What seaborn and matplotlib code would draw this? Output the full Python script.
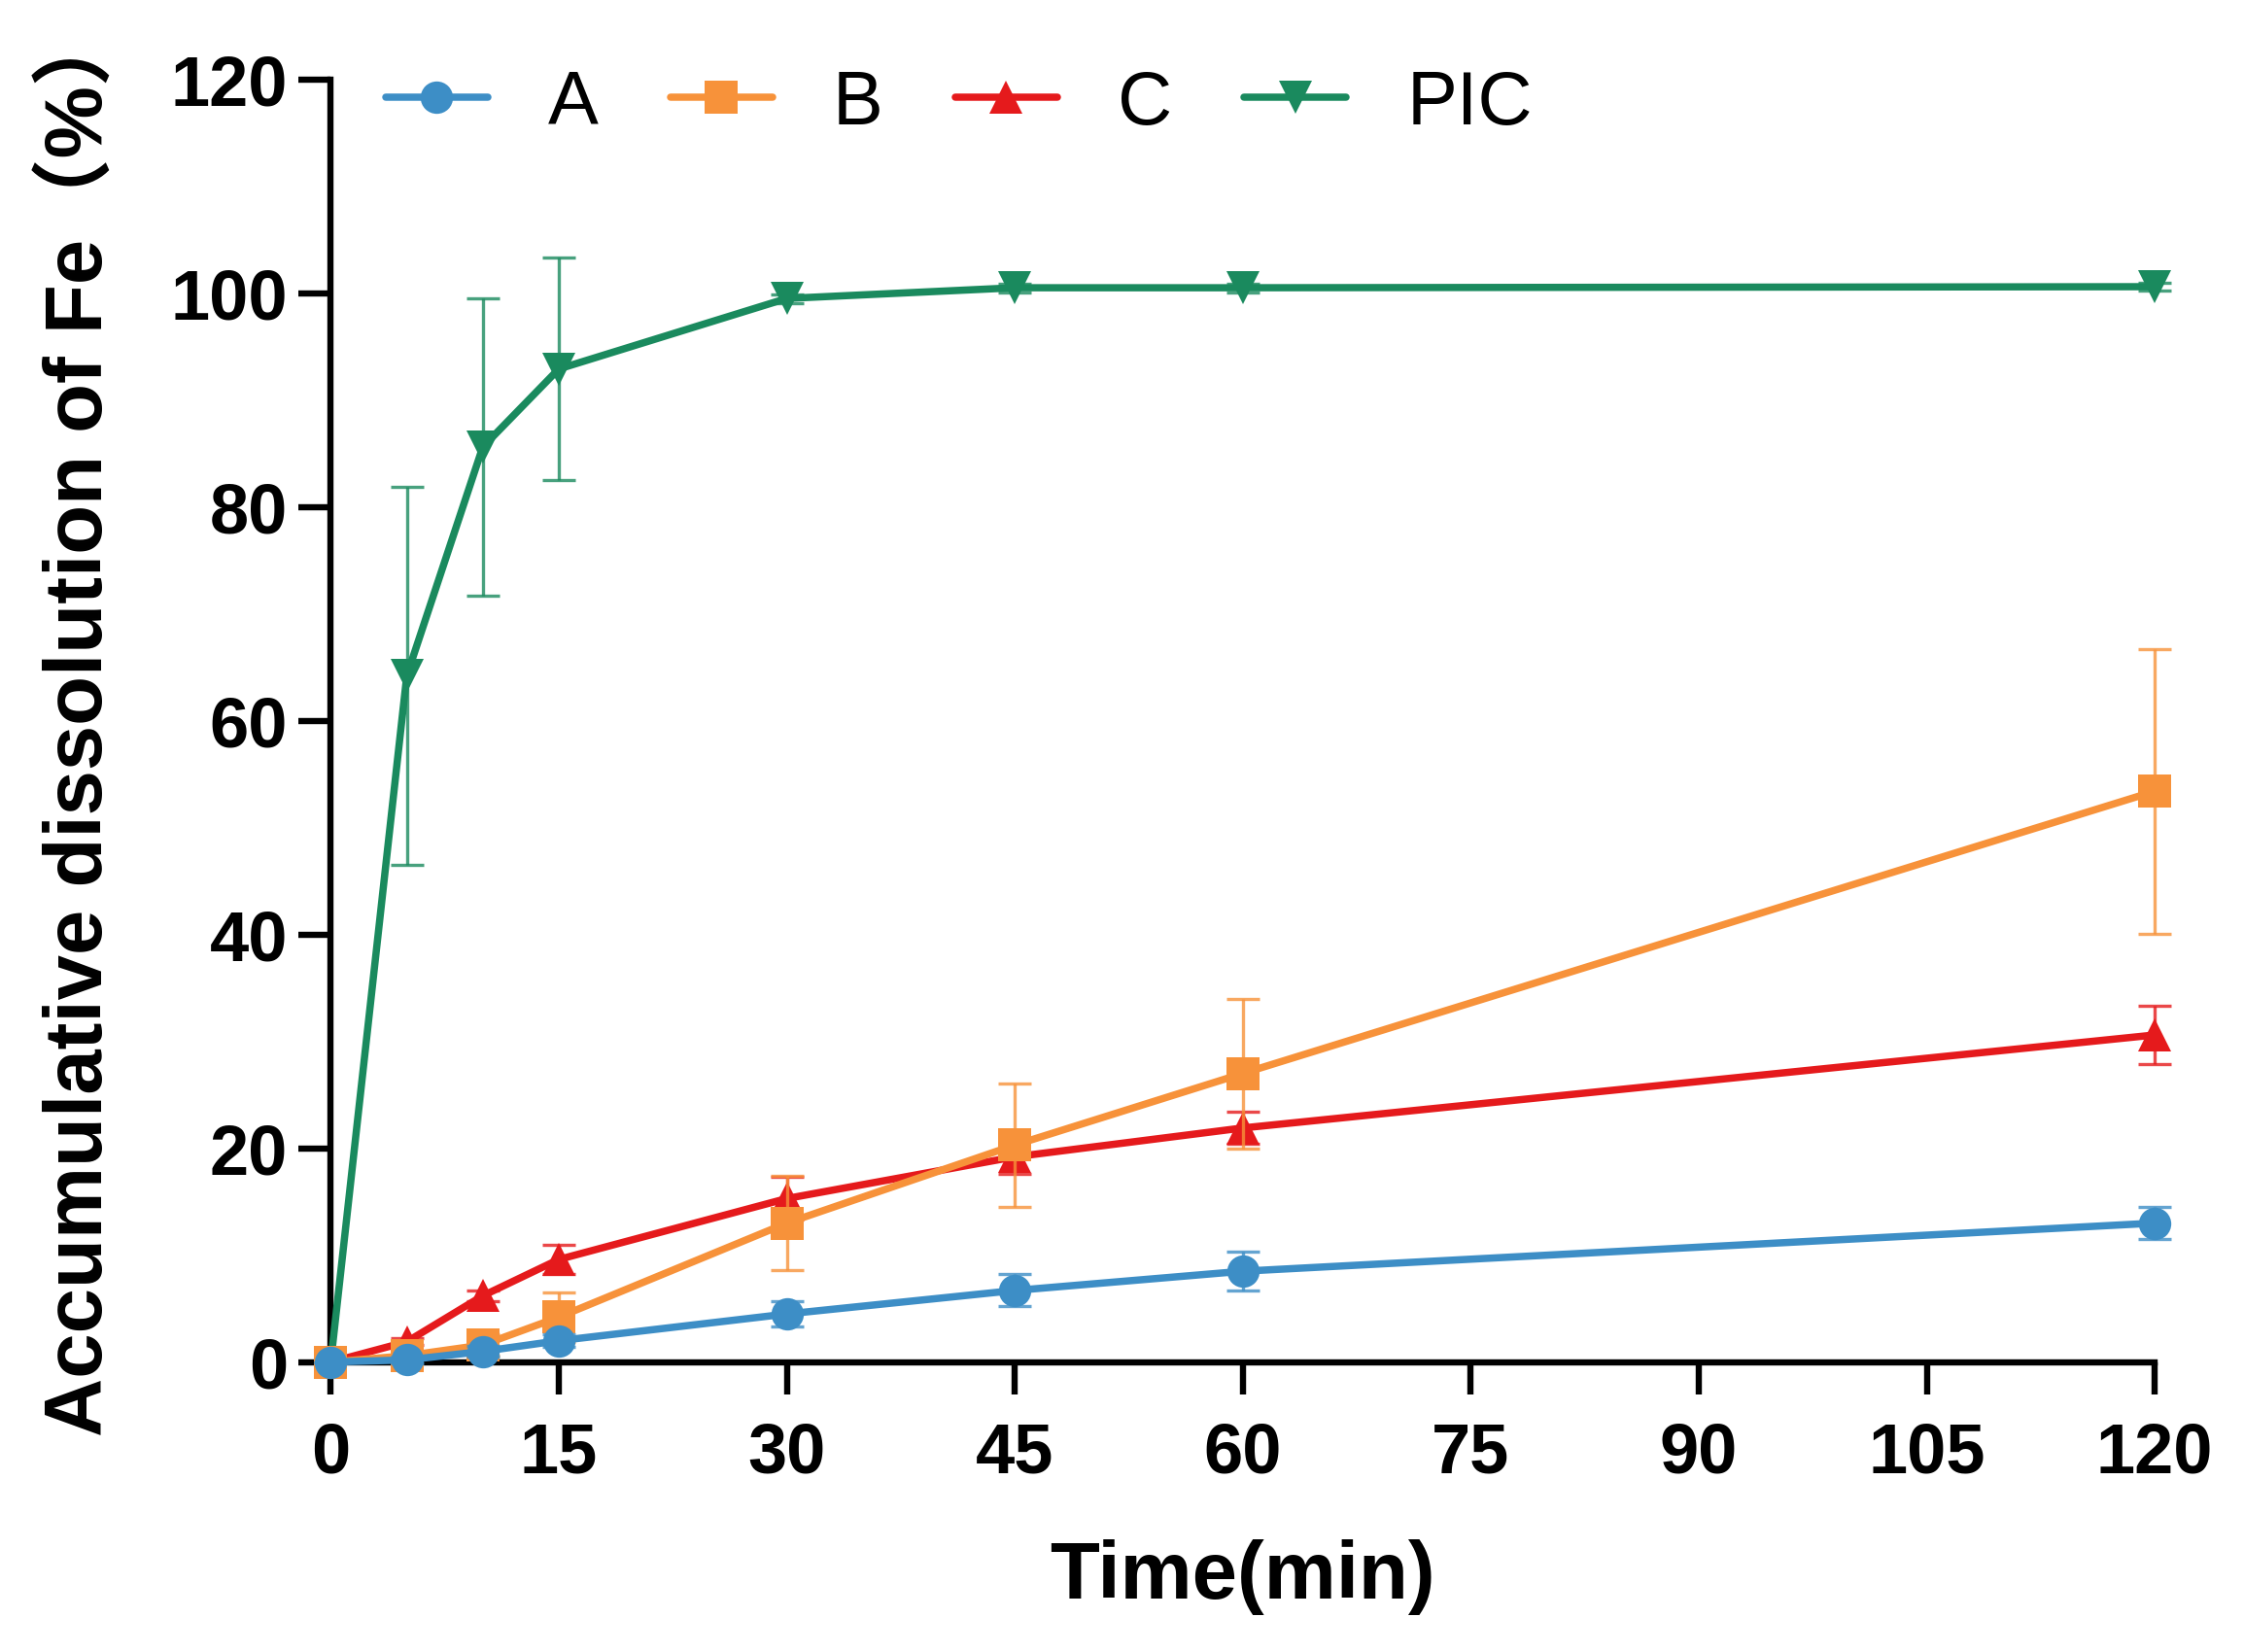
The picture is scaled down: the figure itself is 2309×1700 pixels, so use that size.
import numpy as np
import pandas as pd
import seaborn as sns
import matplotlib.pyplot as plt

# sampling times (min)
time = [0, 5, 10, 15, 30, 45, 60, 120]

# mean accumulative dissolution (%) and error (SD) per formulation
a_mean = [0.0, 0.2, 1.0, 2.0, 4.5, 6.7, 8.5, 13.0]
a_err = [0.0, 0.3, 0.5, 0.6, 1.2, 1.5, 1.8, 1.5]
b_mean = [0.0, 0.6, 1.6, 4.2, 13.0, 20.3, 27.0, 53.4]
b_err = [0.0, 0.4, 1.0, 2.3, 4.4, 5.8, 7.0, 13.3]
c_mean = [0.0, 1.9, 6.2, 9.6, 15.3, 19.2, 21.9, 30.6]
c_err = [0.0, 0.3, 0.5, 1.4, 2.0, 1.6, 1.5, 2.7]
pic_mean = [0.0, 64.2, 85.6, 92.9, 99.5, 100.5, 100.5, 100.6]
pic_err = [0.0, 17.7, 13.9, 10.4, 0.4, 0.4, 0.4, 0.4]

names = ["A", "B", "C", "PIC"]
colors = ["#3d8ec6", "#f7923a", "#e51a1c", "#1a8a5e"]
markers = ["o", "s", "^", "v"]

df = pd.DataFrame({
    "time": time * 4,
    "value": a_mean + b_mean + c_mean + pic_mean,
    "err": a_err + b_err + c_err + pic_err,
    "group": [n for n in names for _ in time],
})

sns.set_style("ticks")
plt.rcParams['font.family'] = ['Liberation Sans', 'Noto Sans CJK SC', 'DejaVu Sans']
plt.rcParams['text.color'] = 'black'
plt.rcParams['axes.labelcolor'] = 'black'

fig = plt.figure(figsize=(11.545, 8.5), dpi=200)
ax = fig.add_axes([0.1474, 0.1755, 0.9602 - 0.1474, 0.952 - 0.1755])

zorders = {"A": 8, "B": 7, "C": 6, "PIC": 5}
for name, col, mk in zip(names, colors, markers):
    sub = df[df["group"] == name]
    ax.errorbar(sub["time"], sub["value"], yerr=sub["err"], fmt="none",
                ecolor=col, elinewidth=1.2, capsize=6, capthick=1.2,
                alpha=0.8, zorder=zorders[name] - 0.5, clip_on=False)
    sns.lineplot(data=sub, x="time", y="value", ax=ax, color=col, marker=mk,
                 markersize=12, markeredgewidth=0, linewidth=2.7,
                 label=name, zorder=zorders[name], clip_on=False,
                 errorbar=None)

ax.set_xlim(0, 120)
ax.set_ylim(0, 120)
ax.set_xticks(np.arange(0, 121, 15))
ax.set_yticks(np.arange(0, 121, 20))
sns.despine(ax=ax)
for s in ["left", "bottom"]:
    ax.spines[s].set_linewidth(2.3)
    ax.spines[s].set_color("black")
ax.tick_params(axis="both", length=12, width=2.3, color="black",
               labelsize=26, labelcolor="black")
ax.tick_params(axis="y", pad=4)
ax.tick_params(axis="x", pad=10)
for lab in ax.get_xticklabels() + ax.get_yticklabels():
    lab.set_fontweight("bold")

ax.set_xlabel("Time(min)", fontsize=30, fontweight="bold", va="center")
ax.xaxis.set_label_coords(0.5, -0.168)
ax.set_ylabel("Accumulative dissolution of Fe（%）", fontsize=30,
              fontweight="bold", va="center")
ax.yaxis.set_label_coords(-0.138, 0.50)

leg = ax.legend(loc="center left", bbox_to_anchor=(0.1718, 0.937),
                bbox_transform=fig.transFigure, ncol=4, frameon=False,
                fontsize=28, handlelength=1.35, handletextpad=0.8,
                columnspacing=0.95, borderpad=0, borderaxespad=0)
for t in leg.get_texts():
    t.set_color("black")

fig.savefig("out.png", dpi=200)
